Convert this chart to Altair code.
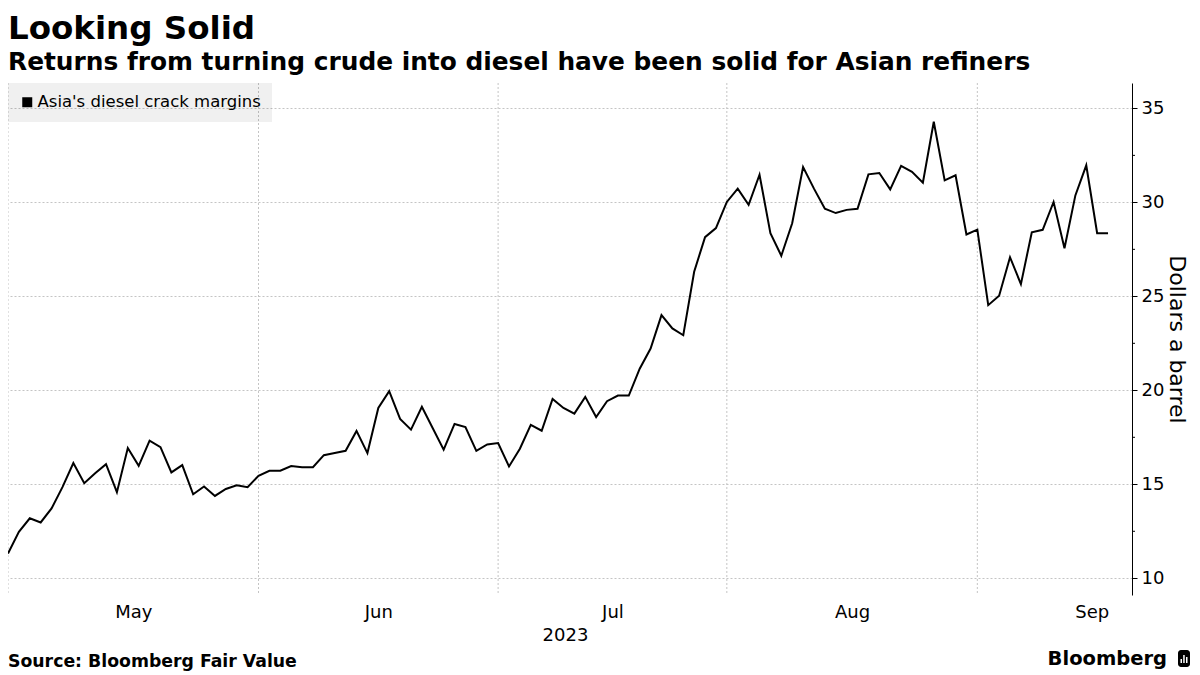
import altair as alt
import pandas as pd

# ---------------- data ----------------
series_name = "Asia's diesel crack margins"
margins = [
    11.32, 12.47, 13.19, 12.97, 13.72, 14.85, 16.13, 15.06, 15.59, 16.07,
    14.58, 16.93, 15.98, 17.32, 16.98, 15.63, 16.02, 14.47, 14.88, 14.38,
    14.75, 14.95, 14.85, 15.45, 15.72, 15.72, 15.97, 15.91, 15.91, 16.55,
    16.66, 16.78, 17.84, 16.66, 19.06, 19.95, 18.48, 17.91, 19.12, 17.98,
    16.84, 18.21, 18.05, 16.78, 17.12, 17.19, 15.95, 16.89, 18.16, 17.85,
    19.54, 19.06, 18.76, 19.65, 18.58, 19.42, 19.72, 19.72, 21.15, 22.22,
    24.00, 23.29, 22.93, 26.31, 28.15, 28.63, 30.02, 30.73, 29.87, 31.47,
    28.36, 27.16, 28.89, 31.88, 30.73, 29.66, 29.43, 29.60, 29.66, 31.49,
    31.56, 30.69, 31.94, 31.62, 31.05, 34.29, 31.17, 31.44, 28.29, 28.55,
    24.53, 25.03, 27.08, 25.65, 28.41, 28.54, 30.02, 27.56, 30.37, 31.97,
    28.36, 28.36,
]
dates = pd.bdate_range("2023-05-01", periods=len(margins))

month_names = ["May", "Jun", "Jul", "Aug", "Sep"]
month_start_idx = [0, 23, 45, 66, 89]
month_mid_idx = [11.5, 34, 55.5, 77.5, 99.5]
year_label = "2023"
y_ticks = [10, 15, 20, 25, 30, 35]
y_minor_ticks = [12.5, 17.5, 22.5, 27.5, 32.5]

title_text = "Looking Solid"
subtitle_text = "Returns from turning crude into diesel have been solid for Asian refiners"
source_text = "Source: Bloomberg Fair Value"
brand_text = "Bloomberg"
y_title = "Dollars a barrel"

# ---------------- styling ----------------
FONT = "DejaVu Sans"
GRID = "#c4c4c4"
W, H = 1124, 512

df = pd.DataFrame({
    "i": list(range(len(margins))),
    "date": dates,
    "value": margins,
    "series": series_name,
})
grid_df = pd.DataFrame({"i": month_start_idx})
minor_df = pd.DataFrame({"v": y_minor_ticks})
one = pd.DataFrame({"a": [0]})

x_scale = alt.Scale(domain=[0, 103.2], nice=False, zero=False)
y_scale = alt.Scale(domain=[9.11, 36.35], nice=False, zero=False)

label_expr = " : ".join(
    f"datum.value == {m} ? '{n}'" for m, n in zip(month_mid_idx, month_names)
) + " : ''"

vgrid = alt.Chart(grid_df).mark_rule(
    color=GRID, strokeDash=[2, 2], strokeWidth=1
).encode(x=alt.X("i:Q", scale=x_scale))

line = alt.Chart(df).mark_line(strokeWidth=2, clip=True).encode(
    x=alt.X(
        "i:Q",
        scale=x_scale,
        axis=alt.Axis(
            values=month_mid_idx,
            labelExpr=label_expr,
            grid=False,
            ticks=False,
            domain=False,
            labelFont=FONT,
            labelFontSize=18,
            labelColor="black",
            labelPadding=8,
            labelFlush=False,
            title=year_label,
            titleFont=FONT,
            titleFontSize=18,
            titleFontWeight="normal",
            titleColor="black",
            titlePadding=5,
            titleX=557,
        ),
    ),
    y=alt.Y(
        "value:Q",
        scale=y_scale,
        axis=alt.Axis(
            orient="right",
            values=y_ticks,
            grid=True,
            gridDash=[2, 2],
            gridColor=GRID,
            gridWidth=1,
            domain=True,
            domainColor="black",
            domainWidth=1,
            ticks=True,
            tickSize=5,
            tickColor="black",
            tickWidth=1,
            labelFont=FONT,
            labelFontSize=18,
            labelColor="black",
            labelPadding=4,
            title=y_title,
            titleFont=FONT,
            titleFontSize=22,
            titleFontWeight="normal",
            titleColor="black",
            titleAngle=90,
            titlePadding=1,
        ),
    ),
    color=alt.Color(
        "series:N",
        scale=alt.Scale(range=["black"]),
        legend=alt.Legend(
            title=None,
            orient="top-left",
            offset=0,
            padding=11,
            fillColor="rgba(0,0,0,0.06)",
            symbolType="square",
            symbolSize=100,
            symbolFillColor="black",
            symbolStrokeColor="black",
            symbolStrokeWidth=0,
            labelFont=FONT,
            labelFontSize=16.5,
            labelColor="black",
            labelOffset=2,
            labelLimit=500,
        ),
    ),
)

minor = alt.Chart(minor_df).mark_rule(color="black", strokeWidth=1).encode(
    y=alt.Y("v:Q", scale=y_scale),
    x=alt.value(W),
    x2=alt.value(W + 3),
)

source = alt.Chart(one).mark_text(
    text=source_text, font=FONT, fontSize=17.3, fontWeight="bold",
    align="left", baseline="alphabetic", color="black",
).encode(x=alt.value(0), y=alt.value(584))

brand = alt.Chart(one).mark_text(
    text=brand_text, font=FONT, fontSize=19.5, fontWeight="bold",
    align="right", baseline="alphabetic", color="black",
).encode(x=alt.value(1159), y=alt.value(582))

icon = alt.Chart(one).mark_rect(color="black", cornerRadius=3).encode(
    x=alt.value(1170), x2=alt.value(1182), y=alt.value(567), y2=alt.value(584)
)
bar1 = alt.Chart(one).mark_rect(color="white").encode(
    x=alt.value(1172.5), x2=alt.value(1174), y=alt.value(576), y2=alt.value(580)
)
bar2 = alt.Chart(one).mark_rect(color="white").encode(
    x=alt.value(1175.2), x2=alt.value(1176.7), y=alt.value(572), y2=alt.value(580)
)
bar3 = alt.Chart(one).mark_rect(color="white").encode(
    x=alt.value(1178), x2=alt.value(1179.5), y=alt.value(574), y2=alt.value(580)
)

chart = alt.layer(
    vgrid, line, minor, source, brand, icon, bar1, bar2, bar3
).properties(
    width=W,
    height=H,
    background="white",
    title=alt.TitleParams(
        text=title_text,
        subtitle=subtitle_text,
        anchor="start",
        frame="group",
        font=FONT,
        fontSize=32.5,
        fontWeight="bold",
        color="black",
        subtitleFont=FONT,
        subtitleFontSize=24.85,
        subtitleFontWeight="bold",
        subtitleColor="black",
        subtitlePadding=4,
        offset=8,
    ),
    autosize=alt.AutoSizeParams(type="none"),
    padding={"left": 0, "top": 75, "right": 60, "bottom": 80},
).configure_view(
    stroke=None
)

chart.save("out.html", embed_options={"renderer": "svg", "actions": False})
